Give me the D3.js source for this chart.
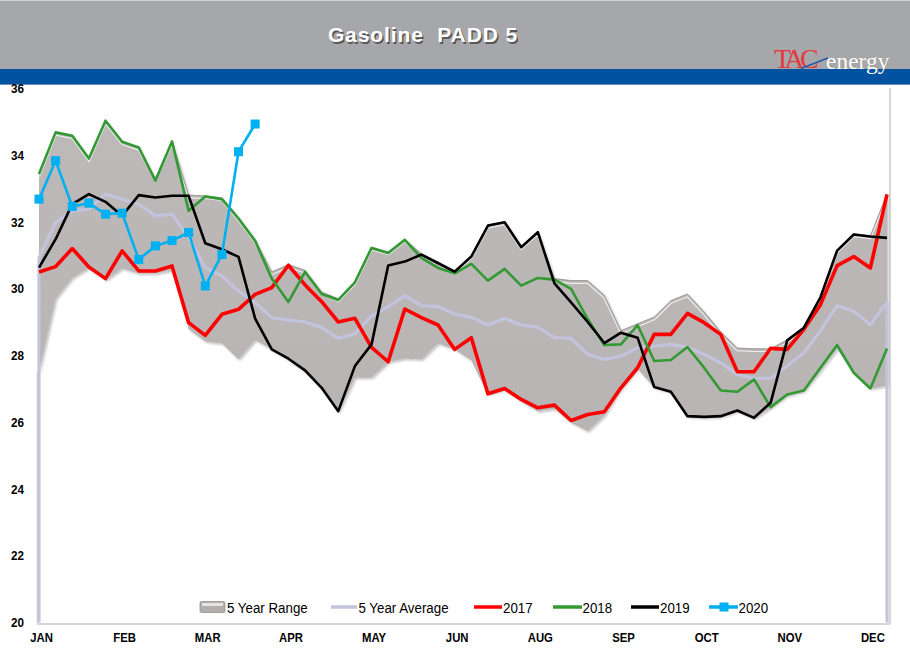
<!DOCTYPE html>
<html>
<head>
<meta charset="utf-8">
<script src="https://cdn.jsdelivr.net/npm/d3@7"></script>
<style>
  html, body { margin: 0; padding: 0; background: #fff; }
  svg { display: block; }
</style>
</head>
<body>
<svg id="chart" width="910" height="659"></svg>
<script>
// ---------------- DATA ----------------
const weekIndex = d3.range(52); // weekly categories, Jan .. Dec
const monthTickWeeks = [0, 5, 10, 15, 20, 25, 30, 35, 40, 45, 50];
const monthTickLabels = ["JAN","FEB","MAR","APR","MAY","JUN","AUG","SEP","OCT","NOV","DEC"];
const yTicks = [20, 22, 24, 26, 28, 30, 32, 34, 36];

const range5yMax = [33.43,34.68,34.58,33.90,35.03,34.40,34.23,33.30,34.41,32.80,32.78,32.72,32.12,31.45,30.50,30.72,30.55,29.90,29.70,30.20,31.24,31.10,31.48,31.04,30.80,30.53,30.98,31.90,32.00,31.26,31.70,30.30,30.24,30.24,29.80,28.74,28.95,29.15,29.64,29.84,29.30,28.70,28.22,28.20,28.20,28.47,28.85,29.76,31.16,31.64,31.58,32.84];
const range5yMin = [27.48,29.69,30.32,30.62,30.25,30.60,30.45,30.45,30.55,28.78,28.42,28.36,27.88,28.46,28.18,27.88,27.50,27.00,26.30,27.33,27.33,27.80,27.91,27.88,28.36,28.18,27.85,26.83,26.98,26.62,26.33,26.40,25.98,25.73,26.20,27.00,27.60,27.03,26.90,26.16,26.14,26.16,26.33,26.11,26.43,26.80,26.93,27.55,28.20,27.45,27.00,27.10];
const avg5y = [30.93,31.98,32.33,32.38,32.83,32.68,32.53,32.18,32.23,31.53,30.63,30.38,29.93,29.58,29.13,29.06,29.00,28.84,28.51,28.65,29.18,29.46,29.79,29.49,29.46,29.24,29.14,28.91,29.11,28.91,28.85,28.53,28.51,28.03,27.88,27.98,28.23,28.28,28.33,28.25,28.03,27.78,27.43,27.31,27.31,27.68,28.08,28.74,29.49,29.32,28.92,29.59];
const y2017 = [30.50,30.66,31.20,30.65,30.30,31.13,30.53,30.53,30.68,28.98,28.60,29.23,29.38,29.83,30.03,30.70,30.11,29.61,29.00,29.11,28.24,27.81,29.39,29.13,28.91,28.18,28.53,26.85,27.01,26.68,26.43,26.51,26.05,26.23,26.31,27.03,27.63,28.63,28.63,29.26,28.98,28.63,27.51,27.51,28.21,28.18,28.78,29.52,30.69,30.96,30.62,32.82];
const y2018 = [33.43,34.68,34.58,33.90,35.03,34.40,34.23,33.23,34.41,32.33,32.76,32.68,32.10,31.43,30.30,29.60,30.50,29.84,29.66,30.19,31.22,31.07,31.46,30.92,30.62,30.46,30.74,30.24,30.59,30.09,30.32,30.27,29.99,29.09,28.31,28.33,28.91,27.83,27.86,28.25,27.63,26.95,26.91,27.28,26.45,26.83,26.95,27.63,28.31,27.48,27.01,28.21];
const y2019 = [30.63,31.48,32.53,32.83,32.60,32.18,32.80,32.73,32.78,32.78,31.36,31.18,30.95,29.10,28.18,27.90,27.55,27.03,26.33,27.68,28.33,30.69,30.81,31.02,30.76,30.51,30.96,31.89,31.99,31.24,31.69,30.16,29.59,29.00,28.37,28.68,28.53,27.05,26.91,26.18,26.16,26.18,26.35,26.13,26.58,28.45,28.83,29.74,31.14,31.62,31.56,31.52];
const y2020 = [32.68,33.83,32.46,32.56,32.23,32.26,30.87,31.28,31.44,31.68,30.08,31.02,34.10,34.93];

const seriesNames = ["5 Year Range","5 Year Average","2017","2018","2019","2020"];

// ---------------- DRAW ----------------
const svg = d3.select("#chart");
const W = 910, H = 659;
const NARROW = "Liberation Sans Narrow, Arial Narrow, Liberation Sans, Arial, sans-serif";

const defs = svg.append("defs");
const bandGrad = defs.append("linearGradient").attr("id","bandGrad").attr("x1",0).attr("y1",0).attr("x2",0).attr("y2",1);
bandGrad.append("stop").attr("offset","0%").attr("stop-color","#bdb9b9");
bandGrad.append("stop").attr("offset","100%").attr("stop-color","#b8b4b4");
const shadow = defs.append("filter").attr("id","bandShadow").attr("x","-5%").attr("y","-5%").attr("width","110%").attr("height","115%");
shadow.append("feDropShadow").attr("dx",1.5).attr("dy",1.5).attr("stdDeviation",1.2).attr("flood-color","#000").attr("flood-opacity",0.25);

// Header
svg.append("rect").attr("x",0).attr("y",0).attr("width",W).attr("height",69).attr("fill","#a6a7aa");
svg.append("rect").attr("x",0).attr("y",0).attr("width",W).attr("height",1).attr("fill","#d0d0d2");
svg.append("rect").attr("x",0).attr("y",69).attr("width",W).attr("height",16).attr("fill","#0153a1");
svg.append("rect").attr("x",0).attr("y",84).attr("width",W).attr("height",1).attr("fill","#6f8fb8");

const titleText = "Gasoline\u00a0\u00a0PADD\u00a05";
svg.append("text").attr("x",424.5).attr("y",43.5).attr("text-anchor","middle")
  .attr("font-family","Liberation Sans, Arial, sans-serif").attr("font-weight","bold").attr("font-size",21)
  .attr("letter-spacing",0.9).attr("fill","#3e3e3e").attr("opacity",0.75).text(titleText);
svg.append("text").attr("x",423).attr("y",42).attr("text-anchor","middle")
  .attr("font-family","Liberation Sans, Arial, sans-serif").attr("font-weight","bold").attr("font-size",21)
  .attr("letter-spacing",0.9).attr("fill","#ffffff").text(titleText);

// Logo
const logo = svg.append("g");
logo.append("text").attr("x",774).attr("y",68)
  .attr("font-family","Liberation Serif, DejaVu Serif, serif").attr("font-size",28).attr("letter-spacing",-4.5)
  .attr("fill","#e23a3f").text("TAC");
logo.append("line").attr("x1",801).attr("y1",68.5).attr("x2",828).attr("y2",58)
  .attr("stroke","#1f5aa8").attr("stroke-width",1.4);
logo.append("text").attr("x",826.5).attr("y",69)
  .attr("font-family","Liberation Serif, DejaVu Serif, serif").attr("font-size",23.5)
  .attr("fill","#5a5a5a").attr("opacity",0.5).text("energy");
logo.append("text").attr("x",826).attr("y",68.5)
  .attr("font-family","Liberation Serif, DejaVu Serif, serif").attr("font-size",23.5)
  .attr("fill","#ffffff").text("energy");

// Scales
const x = d3.scaleLinear().domain([0, 51]).range([39, 887]);
const y = d3.scaleLinear().domain([20, 36]).range([622.5, 88.3]);

// Plot borders
const border = svg.append("g").attr("stroke","#d6d6d6").attr("stroke-width",2).attr("fill","none");
border.append("line").attr("x1",37.5).attr("y1",y(range5yMin[0])).attr("x2",37.5).attr("y2",624);
border.append("line").attr("x1",37).attr("y1",624).attr("x2",890).attr("y2",624);
border.append("line").attr("x1",890).attr("y1",88).attr("x2",890).attr("y2",624);

// 5 Year Range band
const band = d3.area().x(i => x(i)).y0(i => y(range5yMin[i])).y1(i => y(range5yMax[i]));
const bandTop = d3.line().x(i => x(i)).y(i => y(range5yMax[i]));
defs.append("clipPath").attr("id","bandClip").append("path").attr("d", band(weekIndex));
svg.append("path").attr("d", band(weekIndex)).attr("fill","url(#bandGrad)").attr("filter","url(#bandShadow)");
svg.append("path").attr("d", bandTop(weekIndex)).attr("transform","translate(0,2.2)")
  .attr("fill","none").attr("stroke","#ffffff").attr("stroke-width",2.2).attr("opacity",0.75)
  .attr("clip-path","url(#bandClip)");
svg.append("path").attr("d", bandTop(weekIndex)).attr("fill","none").attr("stroke","#8e8a8a").attr("stroke-width",0.8);

// 5 Year Average (area outline, drops to baseline at both ends)
const avgPts = weekIndex.map(i => [x(i), y(avg5y[i])]);
const avgOutline = [[x(0), y(20)], ...avgPts, [x(51), y(20)]];
svg.append("path").attr("d", d3.line()(avgOutline)).attr("fill","none")
  .attr("stroke","#c3c3de").attr("stroke-width",3.2).attr("stroke-linejoin","round");

// Year lines
const line = d3.line().x((d,i) => x(i)).y(d => y(d));
svg.append("path").attr("d", line(y2017)).attr("fill","none").attr("stroke","#ff0000").attr("stroke-width",3.6).attr("stroke-linejoin","round");
svg.append("path").attr("d", line(y2018)).attr("fill","none").attr("stroke","#339933").attr("stroke-width",2.6).attr("stroke-linejoin","round");
svg.append("path").attr("d", line(y2019)).attr("fill","none").attr("stroke","#000000").attr("stroke-width",2.6).attr("stroke-linejoin","round");
svg.append("path").attr("d", line(y2020)).attr("fill","none").attr("stroke","#00b0f0").attr("stroke-width",2.6).attr("stroke-linejoin","round");
svg.append("g").selectAll("rect").data(y2020).join("rect")
  .attr("x",(d,i) => x(i) - 4.5).attr("y", d => y(d) - 4.5).attr("width",9).attr("height",9).attr("fill","#00b0f0");

// Axes
const yAxis = d3.axisLeft(y).tickValues(yTicks).tickSize(0).tickPadding(0).tickFormat(d3.format("d"));
const gy = svg.append("g").attr("transform","translate(24,0)").call(yAxis);
gy.select(".domain").remove();
gy.selectAll("text").attr("font-family","Liberation Sans, Arial, sans-serif").attr("font-weight","bold")
  .attr("font-size",13).attr("fill","#000").attr("x",0).attr("transform","scale(0.9,1)");

const xAxis = d3.axisBottom(x).tickValues(monthTickWeeks).tickSize(0).tickPadding(8)
  .tickFormat((d,i) => monthTickLabels[i]);
const gx = svg.append("g").attr("transform","translate(2,624)").call(xAxis);
gx.select(".domain").remove();
gx.selectAll("text").attr("font-family",NARROW)
  .attr("font-weight","bold").attr("font-size",13.5).attr("fill","#000").attr("transform","scale(0.84,1)");

// Legend
const legY = 607;
const leg = svg.append("g").attr("font-family",NARROW).attr("font-size",15.5).attr("fill","#000");
const legTextX = [227, 358.5, 503, 582.5, 660, 738.5];
// range icon
leg.append("rect").attr("x",200).attr("y",legY-5.5).attr("width",25).attr("height",11).attr("rx",1.5)
  .attr("fill","#b3afaf").attr("stroke","#8d8989").attr("stroke-width",0.7);
leg.append("rect").attr("x",202).attr("y",legY-4).attr("width",21).attr("height",3).attr("fill","#e6e4e4");
leg.append("line").attr("x1",331).attr("y1",legY).attr("x2",357).attr("y2",legY).attr("stroke","#c3c3de").attr("stroke-width",3.5);
leg.append("line").attr("x1",474).attr("y1",legY).attr("x2",502).attr("y2",legY).attr("stroke","#ff0000").attr("stroke-width",3.5);
leg.append("line").attr("x1",553).attr("y1",legY).attr("x2",582).attr("y2",legY).attr("stroke","#339933").attr("stroke-width",3.5);
leg.append("line").attr("x1",631).attr("y1",legY).attr("x2",659).attr("y2",legY).attr("stroke","#000000").attr("stroke-width",3.5);
leg.append("line").attr("x1",709).attr("y1",legY).attr("x2",738).attr("y2",legY).attr("stroke","#00b0f0").attr("stroke-width",3.5);
leg.append("rect").attr("x",719.5).attr("y",legY-4.5).attr("width",9).attr("height",9).attr("fill","#00b0f0");
seriesNames.forEach((n,k) => {
  leg.append("g").attr("transform",`translate(${legTextX[k]},${legY}) scale(0.86,1)`)
    .append("text").attr("x",0).attr("y",0).attr("dy","0.36em").text(n);
});
</script>
</body>
</html>
